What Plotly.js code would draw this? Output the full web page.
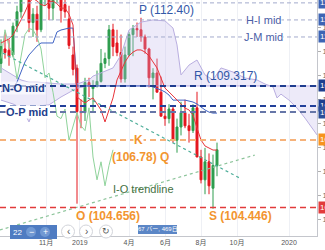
<!DOCTYPE html>
<html><head><meta charset="utf-8">
<script src="https://cdn.plot.ly/plotly-3.0.1.min.js"></script>
<style>html,body{margin:0;padding:0;background:#fff;}#chart{width:325px;height:250px;}</style>
</head><body><div id="chart"></div>
<script>
// ---- weekly USD/JPY candles ----
const weekDates = ['2018-08-20','2018-08-27','2018-09-03','2018-09-10','2018-09-17','2018-09-24','2018-10-01','2018-10-08','2018-10-15','2018-10-22','2018-10-29','2018-11-05','2018-11-12','2018-11-19','2018-11-26','2018-12-03','2018-12-10','2018-12-17','2018-12-24','2018-12-31','2019-01-07','2019-01-14','2019-01-21','2019-01-28','2019-02-04','2019-02-11','2019-02-18','2019-02-25','2019-03-04','2019-03-11','2019-03-18','2019-03-25','2019-04-01','2019-04-08','2019-04-15','2019-04-22','2019-04-29','2019-05-06','2019-05-13','2019-05-20','2019-05-27','2019-06-03','2019-06-10','2019-06-17','2019-06-24','2019-07-01','2019-07-08','2019-07-15','2019-07-22','2019-07-29','2019-08-05','2019-08-12','2019-08-19','2019-08-26','2019-09-02'];
const openP  = [110.5,111.1,111.05,110.85,112.05,112.65,113.7,113.75,112.2,112.55,111.9,113.2,113.85,112.8,113.45,113.55,112.95,112.35,110.85,110.3,108.5,108.45,109.7,109.45,109.55,109.75,110.5,110.7,111.9,111.35,110.95,109.85,110.85,111.7,111.95,111.9,111.6,111.1,109.9,110.1,109.3,108.3,108.2,108.6,107.3,107.85,108.45,107.9,107.7,108.65,106.6,105.65,106.4,105.3,106.25];
const highP  = [111.5,111.8,111.5,112.2,112.9,113.7,114.55,113.9,112.8,112.9,113.4,114.1,114.2,113.8,113.9,113.8,113.7,112.9,111.2,110.45,109.0,109.9,109.9,109.8,110.2,111.1,110.95,112.1,112.15,111.9,111.7,111.2,111.8,112.1,112.2,112.4,111.7,111.15,110.3,110.7,109.95,108.7,108.8,108.7,108.2,108.9,108.99,108.4,108.8,109.317,106.9,106.98,106.75,106.7,107.2];
const lowP   = [110.1,110.7,110.4,110.75,111.8,112.4,113.5,111.8,111.6,111.4,111.8,112.9,112.3,112.3,113.0,112.2,112.4,111.1,110.0,104.656,107.8,108.1,109.1,108.5,109.5,109.7,110.3,110.4,110.8,110.8,109.7,109.7,110.8,110.8,111.6,111.4,110.9,109.5,109.0,109.3,108.3,107.9,108.0,107.2,106.78,107.5,107.8,107.2,107.6,106.6,105.5,105.05,105.05,104.446,105.8];
const closeP = [111.2,110.95,110.8,112.05,112.65,113.7,113.75,112.2,112.55,111.9,113.2,113.85,112.8,113.45,113.55,112.7,112.65,111.25,110.25,108.5,108.45,109.7,109.55,109.55,109.75,110.5,110.7,111.9,111.2,110.95,109.85,110.85,111.7,111.95,111.9,111.6,111.1,109.9,110.1,109.3,108.3,108.2,108.6,107.3,107.85,108.45,107.9,107.7,108.65,106.6,105.65,106.4,105.4,106.25,106.9];

// ---- ichimoku-style lines ----
const tenkan = [111.35,111.43,111.52,111.68,111.97,112.31,112.64,113.02,113.2,113.1,112.95,112.9,113.05,113.1,112.98,112.8,112.8,112.55,112.1,
  109.1,108.97,108.85,108.97,109.06,108.81,108.56,108.06,108.56,109.06,109.81,110.22,110.56,110.81,110.97,111.06,111.06,110.97,110.81,110.56,110.31,109.89,109.47,109.31,109.14,108.97,108.81,108.64,108.56,108.35,107.81,107.31,107.06,106.97,106.89,106.89];
const kijun = [109.31,109.39,109.39,109.47,109.72,110.14,110.56,110.85,111.06,111.22,111.35,111.35,111.35,111.35,111.81,111.89,111.93,111.97,111.97,
  109.56,109.56,109.56,109.56,109.56,109.56,109.56,109.56,109.56,109.56,109.56,109.56,109.56,109.56,109.56,109.56,109.56,109.56,109.56,
  109.52,109.47,109.39,109.31,109.18,108.97,108.97,108.97,108.97,108.93,108.89,108.81,108.68,108.56,108.47,108.43,108.43];
const laggingDates = ['2018-08-20','2018-08-27','2018-09-03','2018-09-10','2018-09-17','2018-09-24','2018-10-01','2018-10-08','2018-10-15','2018-10-22','2018-10-29','2018-11-05','2018-11-12','2018-11-19','2018-11-26','2018-12-03','2018-12-10','2018-12-17','2018-12-24','2018-12-31','2019-01-07','2019-01-14','2019-01-21','2019-01-28','2019-02-04','2019-02-11','2019-02-18','2019-02-25','2019-03-04'];
const lagging = [110.7,111.9,111.2,110.95,109.85,110.85,111.7,111.95,111.9,111.6,111.1,109.9,110.1,109.3,108.3,108.2,108.6,107.3,107.85,108.45,107.9,107.7,108.65,106.6,105.65,106.4,105.4,106.25,106.9];

const cloudDates = ['2018-08-20','2018-09-10','2018-09-24','2018-10-01','2018-10-08','2018-10-15','2018-10-22','2018-11-12','2018-12-03','2018-12-31','2019-01-21','2019-01-28','2019-02-11','2019-03-04','2019-03-18','2019-04-01','2019-04-22','2019-05-13','2019-06-03','2019-06-17','2019-06-24','2019-07-01','2019-07-15','2019-07-29','2019-08-12','2019-08-26','2019-09-09','2019-09-30','2019-10-21','2019-11-11','2019-11-25','2019-12-09','2019-12-16','2019-12-23','2020-01-06','2020-01-20','2020-02-03','2020-02-17','2020-02-24'];
const spanA = [110.31,110.02,109.81,109.76,109.72,109.72,109.72,109.68,109.64,109.64,109.81,109.97,110.10,110.31,110.85,111.89,112.22,112.31,112.27,111.97,111.27,110.02,110.43,110.64,110.02,109.81,110.31,110.14,109.89,109.81,109.64,109.52,109.06,109.22,108.97,108.64,108.22,107.72,107.52];
const spanB = [108.97,108.81,108.64,108.39,108.06,108.47,108.72,108.77,109.10,109.47,109.56,109.56,109.56,109.56,109.56,109.56,109.56,109.56,109.56,109.56,109.56,109.56,109.56,109.56,109.56,109.56,109.56,109.56,109.56,109.56,109.56,109.56,109.56,109.56,109.56,109.56,109.56,109.56,109.56];

// ---- trend lines ----
const trendDownDates = ['2018-08-23','2019-10-12'];
const trendDownPrices = [110.93,105.72];
const trendIODates = ['2018-08-18','2019-11-07'];
const trendIOPrices = [103.56,106.68];

// ---- horizontal levels ----
const levelPrices = [113.02,112.31,111.60,109.56,108.73,108.47,107.31,104.50];
const levelColors = ['#a3abcc','#a3abcc','#a3abcc','#1f3d8f','#22409a','#6676a8','#f6b27a','#e23b3b'];
const levelWidths = [1,1,1,2,2,2,2,1.5];
const badgeColors = ['#3d64b4','#3d64b4','#3d64b4','#1e3f8f','#1e3f8f','#2d4e99','#f7931e','#e23b3b'];

// ---- axis ticks ----
const tickDates = ['2018-11-07','2019-01-05','2019-04-01','2019-06-04','2019-08-05','2019-10-07','2020-01-06'];
const tickLabels = ['11月','2019','4月','6月','8月','10月','2020'];
const priceTicks = [104,105,106,107,108,109,110,111,112];

const W = 317, H = 236;
const px = x => x / W;
const py = y => (H - y) / H;
const FONT = 'Liberation Sans, Arial, sans-serif';

const traces = [
  {type:'scatter', mode:'lines', x:cloudDates, y:spanB, line:{color:'#b9aee0', width:1}, hoverinfo:'skip', showlegend:false},
  {type:'scatter', mode:'lines', x:cloudDates, y:spanA, line:{color:'#b9aee0', width:1}, fill:'tonexty', fillcolor:'rgba(196,186,236,0.30)', hoverinfo:'skip', showlegend:false},
  {type:'scatter', mode:'lines', x:laggingDates, y:lagging, line:{color:'#8fd39b', width:1}, hoverinfo:'skip', showlegend:false},
  {type:'scatter', mode:'lines', x:weekDates, y:kijun, line:{color:'#3f63c4', width:1}, hoverinfo:'skip', showlegend:false},
  {type:'scatter', mode:'lines', x:weekDates, y:tenkan, line:{color:'#e8353b', width:1}, hoverinfo:'skip', showlegend:false},
  {type:'scatter', mode:'lines', x:trendDownDates, y:trendDownPrices, line:{color:'#4fae9a', width:1.2, dash:'dot'}, hoverinfo:'skip', showlegend:false},
  {type:'scatter', mode:'lines', x:trendIODates, y:trendIOPrices, line:{color:'#8cc49a', width:1.2, dash:'dot'}, hoverinfo:'skip', showlegend:false},
  {type:'candlestick', x:weekDates, open:openP, high:highP, low:lowP, close:closeP,
   increasing:{line:{color:'#2e9d4e', width:1}, fillcolor:'#2e9d4e'},
   decreasing:{line:{color:'#e4161e', width:1}, fillcolor:'#e4161e'},
   whiskerwidth:0, hoverinfo:'skip', showlegend:false}
];

const shapes = levelPrices.map((p,i) => ({
  type:'line', xref:'paper', yref:'y', x0:0, x1:1, y0:p, y1:p,
  line:{color:levelColors[i], width:levelWidths[i], dash: i<3 ? '4px,3px' : '6px,4px'}
}));

// bottom-left UI overlays
shapes.push({type:'rect', xref:'paper', yref:'paper', x0:px(10), x1:px(57), y0:py(239), y1:py(225), fillcolor:'#4f7cc2', line:{width:0}});
shapes.push({type:'circle', xref:'paper', yref:'paper', x0:px(26), x1:px(36), y0:py(237), y1:py(227), fillcolor:'#7199d3', line:{width:0}});
shapes.push({type:'circle', xref:'paper', yref:'paper', x0:px(40), x1:px(50), y0:py(237), y1:py(227), fillcolor:'#7199d3', line:{width:0}});
[68,86,106].forEach(c => shapes.push({type:'circle', xref:'paper', yref:'paper', x0:px(c-6.5), x1:px(c+6.5), y0:py(238), y1:py(225), fillcolor:'#ffffff', line:{color:'#d2d4da', width:1}}));
shapes.push({type:'rect', xref:'paper', yref:'paper', x0:px(138), x1:px(177), y0:py(234), y1:py(225), fillcolor:'#5b86c6', line:{width:0}});

function ann(text, x, y, o) {
  o = o || {};
  return {text:text, xref:'paper', yref:'paper', x:px(x), y:py(y), xanchor:o.xa||'center', yanchor:'middle',
    showarrow:false, font:{family:FONT, size:o.size||11, color:o.color||'#333', weight:o.bold?'bold':'normal'},
    bgcolor:o.bg||'rgba(0,0,0,0)', borderpad:0};
}
const ORANGE = '#f2952f';
const annotations = [
  ann('P (112.40)', 166, 10, {size:12, color:'#3358a8'}),
  ann('H-I mid', 263, 20, {size:11, color:'#4b5ea6', bg:'#ffffff'}),
  ann('J-M mid', 263, 37, {size:11, color:'#4b5ea6', bg:'#ffffff'}),
  ann('R (109.317)', 225, 76, {size:12, color:'#3358a8'}),
  ann('N-O mid', 23, 88, {size:11, color:'#22408c', bold:true, bg:'rgba(255,255,255,0.6)'}),
  ann('O-P mid', 27, 112, {size:11, color:'#22408c', bold:true, bg:'#ffffff'}),
  ann('K', 138, 140, {size:12, color:ORANGE, bold:true, bg:'#ffffff'}),
  ann('(106.78) Q', 140, 157, {size:12, color:ORANGE, bold:true}),
  ann('I-O trendline', 143, 189, {size:11, color:'#44703f'}),
  ann('O (104.656)', 75, 216, {size:12, color:ORANGE, bold:true, xa:'left'}),
  ann('S (104.446)', 208, 216, {size:12, color:ORANGE, bold:true, xa:'left'}),
  ann('22', 17, 232, {size:8, color:'#ffffff'}),
  ann('−', 31, 232, {size:9, color:'#ffffff'}),
  ann('+', 45, 232, {size:9, color:'#ffffff'}),
  ann('‹', 68, 231, {size:10, color:'#555'}),
  ann('›', 86, 231, {size:10, color:'#555'}),
  ann('↻', 106, 231, {size:9, color:'#555'}),
  {text:'67 バー, 469日', xref:'paper', yref:'paper', x:px(157.5), y:py(229.5), xanchor:'center', yanchor:'middle', showarrow:false,
   font:{family:'Liberation Sans, Noto Sans CJK JP, sans-serif', size:6, color:'#ffffff'}}
];
levelPrices.forEach((p,i) => annotations.push({
  text:p.toFixed(3), xref:'paper', yref:'y', x:1, y:p, xanchor:'left', yanchor:'middle', xshift:1, showarrow:false,
  font:{family:FONT, size:8, color:'#ffffff'}, bgcolor:badgeColors[i], borderpad:1
}));

const layout = {
  width:325, height:250, margin:{l:0, r:8, t:0, b:14},
  paper_bgcolor:'#ffffff', plot_bgcolor:'#ffffff', showlegend:false,
  font:{family:FONT},
  xaxis:{type:'date', range:['2018-08-18 06:00','2020-02-24'], rangeslider:{visible:false},
    tickmode:'array', tickvals:tickDates, ticktext:tickLabels, ticks:'',
    tickfont:{family:'Liberation Sans, Noto Sans CJK JP, sans-serif', size:7, color:'#555'},
    showgrid:true, gridcolor:'#eef0f5', gridwidth:1, showline:true, linecolor:'#c4c6cc', linewidth:1, zeroline:false, fixedrange:true},
  yaxis:{side:'right', range:[103.31,113.14], tickmode:'array', tickvals:priceTicks,
    ticktext:priceTicks.map(v=>v.toFixed(2)), ticks:'outside', ticklen:3, tickcolor:'#b0b0b0',
    tickfont:{family:FONT, size:8, color:'#666'}, showgrid:false, showline:true, linecolor:'#c4c6cc', linewidth:1, zeroline:false, fixedrange:true},
  shapes:shapes, annotations:annotations
};

Plotly.newPlot('chart', traces, layout, {staticPlot:true, displayModeBar:false});
</script>
</body></html>
